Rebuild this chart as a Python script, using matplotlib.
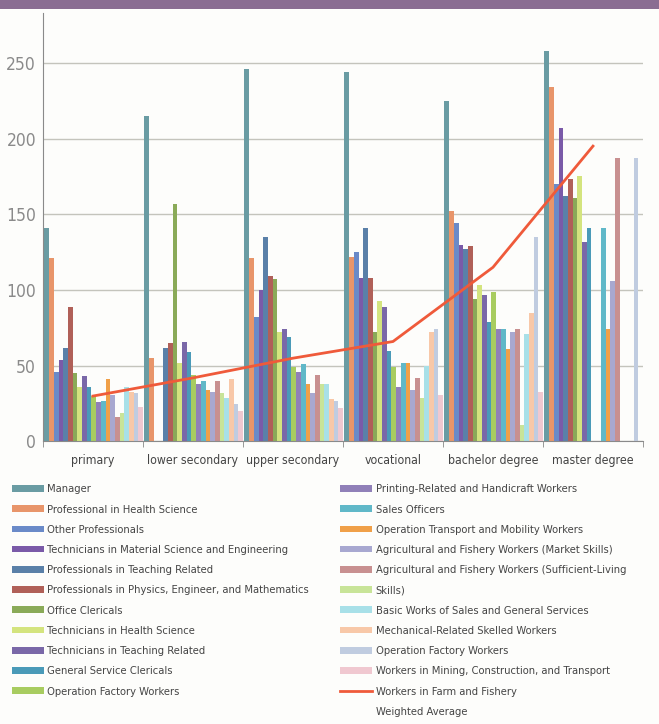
import matplotlib.pyplot as plt
from matplotlib.patches import Rectangle, Patch
from matplotlib.font_manager import FontProperties
import numpy as np

# education levels and occupations
levels = ['primary', 'lower secondary', 'upper secondary', 'vocational',
          'bachelor degree', 'master degree']

occupations = [
    'Manager',
    'Professional in Health Science',
    'Other Professionals',
    'Technicians in Material Science and Engineering',
    'Professionals in Teaching Related',
    'Professionals in Physics, Engineer, and Mathematics',
    'Office Clericals',
    'Technicians in Health Science',
    'Technicians in Teaching Related',
    'General Service Clericals',
    'Operation Factory Workers',
    'Printing-Related and Handicraft Workers',
    'Sales Officers',
    'Operation Transport and Mobility Workers',
    'Agricultural and Fishery Workers (Market Skills)',
    'Agricultural and Fishery Workers (Sufficient-Living Skills)',
    'Basic Works of Sales and General Services',
    'Mechanical-Related Skelled Workers',
    'Operation Factory Workers',
    'Workers in Mining, Construction, and Transport',
    'Workers in Farm and Fishery',
]

colors = ['#6a9ca3', '#e8956a', '#6a8ac8', '#7a5aa8', '#5a80a8', '#b06058',
          '#8aaa58', '#d4e47e', '#7a68a8', '#4a9ab8', '#a8cc60', '#9080b8',
          '#60b8c8', '#f0a048', '#a8a8d0', '#c89090', '#c8e498', '#a8e0e8',
          '#f8c8a8', '#c0cce0', '#f0c8d0']

# values per level, one entry per occupation (0 = no bar)
primary = [141, 121, 46, 54, 62, 89, 45, 36, 43, 36, 30, 26, 27, 41, 31, 16, 19, 36, 33, 32, 23]
lower_secondary = [215, 55, 0, 0, 62, 65, 157, 52, 66, 59, 44, 38, 40, 34, 33, 40, 32, 29, 41, 25, 20]
upper_secondary = [246, 121, 82, 100, 135, 109, 107, 72, 74, 69, 49, 46, 51, 38, 32, 44, 38, 38, 28, 27, 22]
vocational = [244, 122, 125, 108, 141, 108, 72, 93, 89, 60, 49, 36, 52, 52, 34, 42, 29, 50, 72, 74, 31]
bachelor = [225, 152, 144, 130, 127, 129, 94, 103, 97, 79, 99, 74, 74, 61, 72, 74, 11, 71, 85, 135, 33]
master = [258, 234, 170, 207, 162, 173, 161, 175, 132, 141, 0, 0, 141, 74, 106, 187, 0, 0, 0, 187, 0]

weighted_avg = [30, 42, 55, 66, 115, 195]

values = np.array([primary, lower_secondary, upper_secondary, vocational, bachelor, master])


def cond(size):
    return FontProperties(family='DejaVu Sans', stretch='condensed', size=size)


fig = plt.figure(figsize=(6.59, 7.24), dpi=100)
fig.patch.set_facecolor('#fdfdfb')
fig.patches.append(Rectangle((0, 0.987), 1, 0.013, transform=fig.transFigure,
                             facecolor='#8a6d92', edgecolor='none'))

ax = fig.add_axes([0.0652, 0.3902, 0.9105, 0.5921])
ax.set_facecolor('none')

x = np.arange(len(levels))
w = 0.047
bars = []
for i, occ in enumerate(occupations):
    b = ax.bar(x - 0.485 + i * w + w / 2, values[:, i], width=w,
               color=colors[i], linewidth=0, zorder=2)
    bars.append(b)

line, = ax.plot(x, weighted_avg, color='#ef5a3a', linewidth=2, zorder=3)

ax.set_xlim(-0.5, 5.5)
ax.set_ylim(0, 283)
ax.set_yticks([0, 50, 100, 150, 200, 250])
ax.yaxis.grid(True, color='#c4c4bc', linewidth=1, zorder=0)
ax.set_axisbelow(True)

ax.set_xticks(x)
ax.set_xticklabels(levels, color='#444444', fontproperties=cond(8.8))
ax.set_xticks(np.arange(-0.5, 6, 1), minor=True)
ax.tick_params(axis='x', which='major', length=0, pad=9)
ax.tick_params(axis='x', which='minor', length=4, color='#888888')
ax.tick_params(axis='y', length=0, pad=5, labelcolor='#8a8a8a')
for lab in ax.get_yticklabels():
    lab.set_fontproperties(cond(12.5))

for s in ['top', 'right']:
    ax.spines[s].set_visible(False)
ax.spines['left'].set_color('#8a8a8a')
ax.spines['bottom'].set_color('#8a8a8a')

# legend rows as printed (one label wraps onto a second row)
split = occupations[15].rsplit(' ', 1)
legend_labels = occupations[:15] + [split[0], split[1]] + occupations[16:] + ['Weighted Average']
blank = Patch(facecolor='none', edgecolor='none')
legend_handles = bars + [line, blank]

leg_kw = dict(frameon=False, loc='upper left', handlelength=2.9,
              handleheight=0.55, handletextpad=0.3, labelspacing=0.92,
              borderpad=0, borderaxespad=0, prop=cond(8.0))
leg1 = fig.legend(legend_handles[:11], legend_labels[:11],
                  bbox_to_anchor=(0.018, 0.331), **leg_kw)
leg2 = fig.legend(legend_handles[11:], legend_labels[11:],
                  bbox_to_anchor=(0.516, 0.331), **leg_kw)
for leg in (leg1, leg2):
    for t in leg.get_texts():
        t.set_color('#444444')

fig.savefig('out.png', dpi=100, facecolor=fig.get_facecolor())
